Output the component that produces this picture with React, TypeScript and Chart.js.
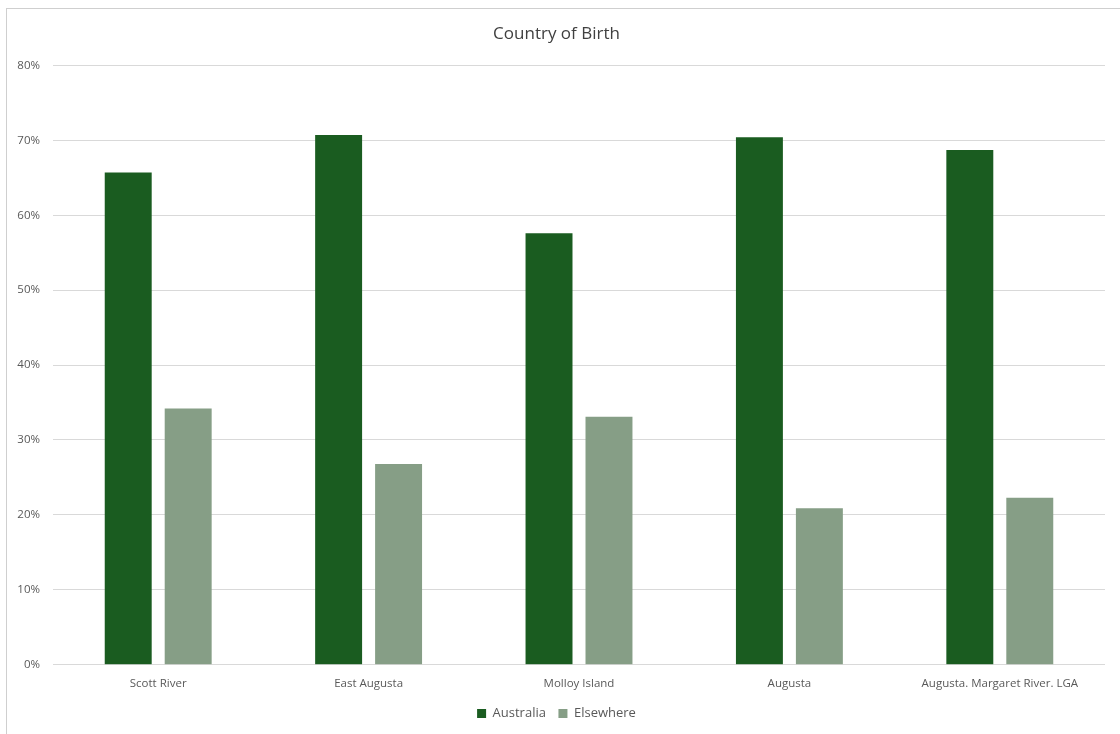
import React, { useEffect, useRef } from "react";
import { Chart, registerables } from "chart.js";

Chart.register(...registerables);

const categories = ["Scott River", "East Augusta", "Molloy Island", "Augusta", "Augusta. Margaret River. LGA"];
const australia = [65.7, 70.7, 57.6, 70.4, 68.7];
const elsewhere = [34.2, 26.8, 33.1, 20.9, 22.3];
const yTicks = [0, 10, 20, 30, 40, 50, 60, 70, 80];

export default function App() {
  const ref = useRef<HTMLCanvasElement | null>(null);
  useEffect(() => {
    document.body.style.margin = "0";
    document.body.style.overflow = "hidden";
    const font = "'Open Sans', 'Liberation Sans', sans-serif";
    const chart = new Chart(ref.current as HTMLCanvasElement, {
      type: "bar",
      data: {
        labels: categories,
        datasets: [
          { label: "Australia", data: australia, backgroundColor: "#1a5c20", categoryPercentage: 0.57, barPercentage: 0.783 },
          { label: "Elsewhere", data: elsewhere, backgroundColor: "#869e86", categoryPercentage: 0.57, barPercentage: 0.783 },
        ],
      },
      options: {
        animation: false,
        responsive: false,
        layout: { padding: { left: 8, right: 15, top: 0, bottom: 4 } },
        plugins: {
          title: {
            display: true,
            text: "Country of Birth",
            color: "#404040",
            font: { family: font, size: 17, weight: "normal" },
            padding: { top: 24, bottom: 21 },
          },
          legend: {
            position: "bottom",
            labels: {
              color: "#595959",
              font: { family: font, size: 13 },
              boxWidth: 9,
              boxHeight: 9,
              padding: 12.5,
            },
          },
          tooltip: { enabled: false },
        },
        scales: {
          x: {
            grid: { display: false },
            border: { display: false },
            ticks: { color: "#595959", font: { family: font, size: 11.5 }, padding: 4, maxRotation: 0 },
          },
          y: {
            min: 0,
            max: 80,
            afterBuildTicks: (s: any) => {
              s.ticks = yTicks.map((v) => ({ value: v }));
            },
            afterFit: (s: any) => {
              s.width = 45;
            },
            grid: { color: "#d9d9d9", drawTicks: false },
            border: { display: false },
            ticks: {
              color: "#595959",
              font: { family: font, size: 11.5 },
              padding: 13,
              callback: (v: any) => v + "%",
            },
          },
        },
      },
    });
    return () => chart.destroy();
  }, []);
  return (
    <div>
      <div
        style={{
          position: "fixed",
          left: 6,
          top: 8,
          width: 1130,
          height: 740,
          border: "1px solid #cfcfcf",
          boxSizing: "border-box",
        }}
      />
      <canvas ref={ref} width={1120} height={734} style={{ position: "fixed", left: 0, top: 0, display: "block" }} />
    </div>
  );
}
